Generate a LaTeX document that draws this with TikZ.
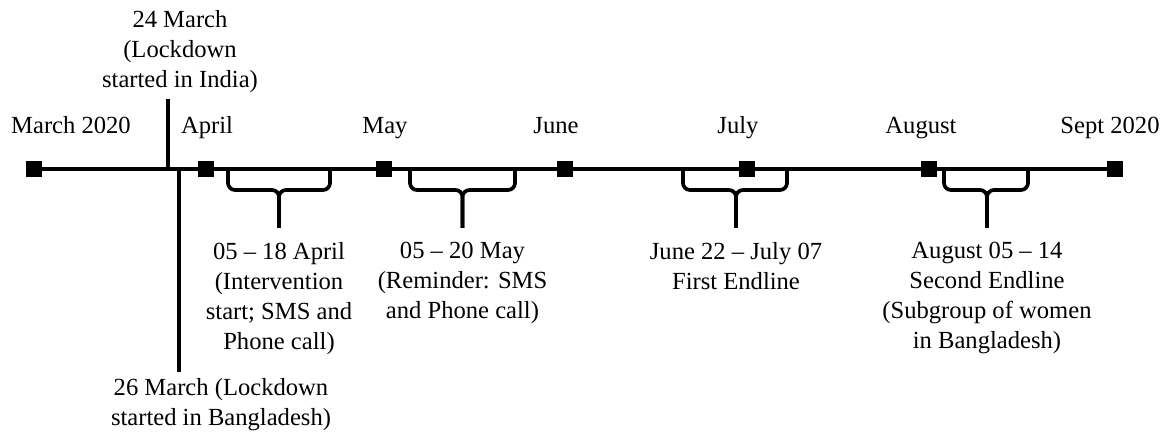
\documentclass[tikz,border=0pt]{standalone}
\usepackage{fontspec}
\setmainfont{Liberation Serif}
\usetikzlibrary{positioning}

\begin{document}
\begin{tikzpicture}[
 sq/.style={fill=black,inner sep=0pt,minimum size=0.32cm},
 month/.style={anchor=base,font=\fontsize{14}{17.1}\selectfont},
 lbl/.style={align=center,font=\fontsize{14}{17.1}\selectfont},
 note/.style={lbl,inner ysep=0.28cm},
 tl/.style={line width=2.1pt},
 brk/.style={line width=2.1pt,rounded corners=0.14cm}
]
\useasboundingbox (0,0) rectangle (23.28,8.7);

% timeline and month squares
\node[sq] (m0) at (0.68,5.32) {};
\node[sq] (m1) at (4.12,5.32) {};
\node[sq] (m2) at (7.68,5.32) {};
\node[sq] (m3) at (11.3,5.32) {};
\node[sq] (m4) at (14.94,5.32) {};
\node[sq] (m5) at (18.58,5.32) {};
\node[sq] (m6) at (22.3,5.32) {};
\draw[tl] (m0) -- (m6);

\node[month] (lmar) at (1.42,6.02) {March 2020};
\node[month] (lapr) at (4.14,6.02) {April};
\node[month] (lmay) at (7.7,6.02) {May};
\node[month] (ljun) at (11.12,6.02) {June};
\node[month] (ljul) at (14.76,6.02) {July};
\node[month] (laug) at (18.42,6.02) {August};
\node[month] (lsep) at (22.2,6.02) {Sept 2020};

% lockdown ticks
\coordinate (in) at (3.36,5.32);
\node[lbl,anchor=south] (inlbl) at (3.6,6.72) {24 March\\(Lockdown\\started in India)};
\draw[tl] (in) -- (in |- inlbl.south);

\coordinate (bd) at (3.58,5.32);
\node[lbl,anchor=north] (bdlbl) at (4.42,1.26) {26 March (Lockdown\\started in Bangladesh)};
\draw[tl] (bd) -- (bd |- bdlbl.north);

% braces
\node[note,anchor=north] (n1) at (5.58,4.14) {05 – 18 April\\(Intervention\\start; SMS and\\Phone call)};
\draw[brk] (4.56,5.32) -- (4.56,4.9) -| (n1.north);
\draw[brk] (6.6,5.32) -- (6.6,4.9) -| (n1.north);

\node[note,anchor=north] (n2) at (9.25,4.14) {05 – 20 May\\(Reminder: SMS\\and Phone call)};
\draw[brk] (8.2,5.32) -- (8.2,4.9) -| (n2.north);
\draw[brk] (10.3,5.32) -- (10.3,4.9) -| (n2.north);

\node[note,anchor=north] (n3) at (14.72,4.14) {June 22 – July 07\\First Endline};
\draw[brk] (13.66,5.32) -- (13.66,4.9) -| (n3.north);
\draw[brk] (15.74,5.32) -- (15.74,4.9) -| (n3.north);

\node[note,anchor=north] (n4) at (19.74,4.14) {August 05 – 14\\Second Endline\\(Subgroup of women\\in Bangladesh)};
\draw[brk] (18.88,5.32) -- (18.88,4.9) -| (n4.north);
\draw[brk] (20.56,5.32) -- (20.56,4.9) -| (n4.north);
\end{tikzpicture}
\end{document}
